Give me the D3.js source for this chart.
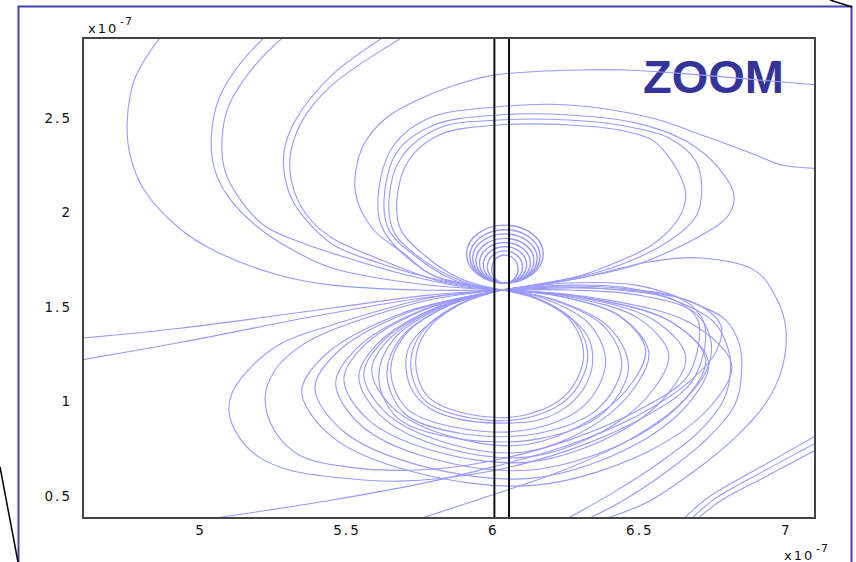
<!DOCTYPE html>
<html>
<head>
<meta charset="utf-8">
<script src="https://cdn.jsdelivr.net/npm/d3@7"></script>
<style>
body { margin: 0; background: #fff; }
svg { display: block; }
.tick text { font-family: "DejaVu Sans", Verdana, sans-serif; font-size: 13.5px; letter-spacing: 2px; fill: #111; }
.expo { font-family: "DejaVu Sans", Verdana, sans-serif; fill: #111; }
</style>
</head>
<body>
<svg id="chart"></svg>
<script>
// axes (units of 1e-7)
const xDomain = [4.6, 7.1];
const yDomain = [0.384, 2.923];
const xTicks = [5, 5.5, 6, 6.5, 7];
const yTicks = [0.5, 1, 1.5, 2, 2.5];
const boundaryX = [6.005, 6.055];
const label = "ZOOM";

// small circles above the saddle (centre x, tangent bottom y, radii)
const ringX = 6.041;
const ringBase = 1.627;
const ringRx = [0.045, 0.06, 0.074, 0.087, 0.099, 0.11, 0.12, 0.131];
const ringRy = [0.074, 0.085, 0.096, 0.107, 0.118, 0.13, 0.141, 0.153];

// upper lobe lines
const U1 = [[6.03,1.59],[5.884,1.653],[5.765,1.775],[5.686,1.907],[5.672,2.066],[5.713,2.278],[5.816,2.41],[6.02,2.463],[6.259,2.463],[6.43,2.437],[6.543,2.384],[6.611,2.272],[6.652,2.146],[6.659,2.093],[6.635,1.971],[6.543,1.828],[6.372,1.706],[6.294,1.664],[6.03,1.59]];
const U2 = [[6.03,1.59],[5.884,1.643],[5.747,1.765],[5.662,1.897],[5.645,2.066],[5.686,2.288],[5.816,2.447],[6.02,2.489],[6.259,2.489],[6.43,2.463],[6.601,2.394],[6.693,2.272],[6.713,2.13],[6.696,1.987],[6.601,1.849],[6.372,1.69],[6.03,1.59]];
const U3 = [[6.03,1.59],[5.867,1.643],[5.73,1.775],[5.645,1.907],[5.628,2.066],[5.672,2.32],[5.799,2.463],[6.02,2.516],[6.259,2.516],[6.488,2.474],[6.659,2.378],[6.771,2.235],[6.823,2.093],[6.805,1.987],[6.713,1.881],[6.488,1.722],[6.294,1.653],[6.03,1.59]];
const U4 = [[6.03,1.59],[5.816,1.653],[5.686,1.791],[5.618,1.934],[5.611,2.13],[5.662,2.357],[5.782,2.5],[6.01,2.558],[6.259,2.569],[6.543,2.5],[6.713,2.41],[6.898,2.304],[6.986,2.251],[7.11,2.233]];
const U5 = [[6.03,1.59],[5.792,1.669],[5.703,1.775],[5.587,1.918],[5.53,2.11],[5.553,2.341],[5.635,2.5],[5.758,2.606],[5.894,2.685],[6.01,2.728],[6.294,2.754],[6.454,2.754],[6.703,2.728],[6.908,2.701],[7.11,2.674]];

// upper-left lines coming down from the top edge
const A1 = [[4.87,2.94],[4.778,2.712],[4.751,2.484],[4.761,2.304],[4.809,2.119],[4.928,1.918],[5.051,1.796],[5.28,1.664],[5.451,1.616],[5.747,1.59],[6.03,1.59]];
const A2 = [[5.228,2.94],[5.133,2.78],[5.065,2.606],[5.038,2.394],[5.051,2.22],[5.099,2.077],[5.188,1.934],[5.304,1.812],[5.451,1.706],[5.747,1.622],[6.03,1.59]];
const A3 = [[5.293,2.94],[5.188,2.78],[5.099,2.569],[5.075,2.394],[5.085,2.22],[5.133,2.077],[5.22,1.93],[5.338,1.845],[5.451,1.785],[5.679,1.68],[5.884,1.611],[6.03,1.59]];
const A4 = [[5.64,2.94],[5.451,2.728],[5.324,2.484],[5.287,2.325],[5.29,2.183],[5.324,2.04],[5.451,1.833],[5.611,1.733],[5.816,1.643],[6.03,1.59]];
const A5 = [[5.705,2.94],[5.451,2.675],[5.348,2.484],[5.307,2.288],[5.321,2.114],[5.372,1.971],[5.451,1.865],[5.611,1.754],[5.816,1.638],[6.03,1.59]];

// lines from the left edge
const E1 = [[4.58,1.333],[4.939,1.389],[5.451,1.495],[5.782,1.563],[6.03,1.59]];
const E2 = [[4.58,1.216],[4.939,1.315],[5.451,1.468],[5.782,1.553],[6.03,1.59]];

// right side, going down to the bottom edge
const B1 = [[6.03,1.59],[6.294,1.653],[6.532,1.738],[6.713,1.759],[6.898,1.69],[6.966,1.553],[7.0,1.394],[6.986,1.167],[6.932,0.992],[6.829,0.812],[6.693,0.638],[6.522,0.463],[6.36,0.37]];
const R1 = [[6.03,1.59],[6.259,1.627],[6.488,1.616],[6.659,1.537],[6.795,1.431],[6.84,1.31],[6.85,1.183],[6.829,0.992],[6.737,0.812],[6.601,0.638],[6.43,0.463],[6.31,0.37]];
const R2 = [[6.03,1.59],[6.259,1.616],[6.464,1.601],[6.635,1.526],[6.754,1.421],[6.799,1.299],[6.812,1.177],[6.788,1.008],[6.703,0.839],[6.567,0.675],[6.396,0.505],[6.24,0.37]];

// lines rising from the bottom edge
const C1 = [[4.99,0.37],[5.235,0.426],[5.451,0.479],[5.747,0.563],[5.997,0.653],[6.259,0.77],[6.498,0.929],[6.669,1.103],[6.765,1.272],[6.778,1.405],[6.703,1.511],[6.532,1.579],[6.294,1.601],[6.03,1.59]];
const C2 = [[5.73,0.37],[5.976,0.495],[6.225,0.627],[6.464,0.796],[6.635,0.981],[6.73,1.167],[6.744,1.325],[6.686,1.474],[6.498,1.563],[6.259,1.59],[6.03,1.59]];

// wide lower-left loops
const O1 = [[6.03,1.59],[5.782,1.537],[5.451,1.378],[5.338,1.288],[5.256,1.167],[5.222,1.024],[5.253,0.849],[5.338,0.717],[5.509,0.653],[5.747,0.638],[5.976,0.68],[6.259,0.796],[6.498,0.955],[6.66,1.124],[6.7,1.283],[6.7,1.431],[6.62,1.537],[6.43,1.59],[6.225,1.606],[6.03,1.59]];
const O2 = [[6.03,1.59],[5.782,1.548],[5.451,1.405],[5.28,1.31],[5.188,1.204],[5.109,1.045],[5.099,0.939],[5.133,0.812],[5.201,0.706],[5.304,0.638],[5.451,0.601],[5.679,0.579],[5.976,0.627],[6.259,0.743],[6.498,0.902],[6.67,1.087],[6.72,1.262],[6.72,1.421],[6.65,1.537],[6.464,1.595],[6.225,1.611],[6.03,1.59]];

// lower lobe lines, inner to outer
const L0 = [[6.03,1.59],[5.918,1.537],[5.816,1.447],[5.747,1.362],[5.713,1.288],[5.703,1.183],[5.724,1.061],[5.782,0.966],[5.884,0.907],[6.02,0.886],[6.157,0.902],[6.259,0.981],[6.321,1.098],[6.341,1.23],[6.321,1.352],[6.242,1.468],[6.14,1.548],[6.03,1.59]];
const L0b = [[6.03,1.59],[5.874,1.508],[5.756,1.365],[5.719,1.194],[5.766,1.009],[5.921,0.914],[6.118,0.914],[6.265,1.03],[6.324,1.235],[6.28,1.419],[6.148,1.549],[6.03,1.59]];
const L0c = [[6.03,1.59],[5.883,1.51],[5.771,1.37],[5.736,1.203],[5.78,1.023],[5.927,0.93],[6.114,0.93],[6.254,1.043],[6.31,1.243],[6.268,1.423],[6.142,1.55],[6.03,1.59]];
const K1 = [[6.03,1.59],[5.84,1.501],[5.696,1.345],[5.651,1.16],[5.708,0.96],[5.897,0.856],[6.137,0.856],[6.314,0.982],[6.385,1.205],[6.332,1.405],[6.172,1.546],[6.03,1.59]];
const K2 = [[6.03,1.59],[5.834,1.498],[5.685,1.337],[5.638,1.145],[5.697,0.938],[5.893,0.831],[6.153,0.831],[6.358,0.961],[6.44,1.191],[6.379,1.398],[6.194,1.544],[6.03,1.59]];
const K3 = [[6.03,1.59],[5.82,1.495],[5.66,1.328],[5.61,1.129],[5.673,0.915],[5.883,0.804],[6.16,0.804],[6.376,0.939],[6.463,1.177],[6.398,1.391],[6.203,1.542],[6.03,1.59]];
const K4 = [[6.03,1.59],[5.808,1.492],[5.639,1.319],[5.586,1.164],[5.653,0.975],[5.83,0.827],[6.104,0.77],[6.349,0.918],[6.482,1.114],[6.521,1.278],[6.433,1.451],[6.226,1.557],[6.03,1.59]];
const K5 = [[6.03,1.59],[5.794,1.487],[5.616,1.307],[5.559,1.144],[5.63,0.947],[5.818,0.793],[6.105,0.733],[6.356,0.887],[6.492,1.093],[6.532,1.264],[6.442,1.444],[6.231,1.557],[6.03,1.59]];
const K6 = [[6.03,1.59],[5.786,1.484],[5.601,1.298],[5.542,1.13],[5.615,0.927],[5.81,0.768],[6.116,0.706],[6.401,0.865],[6.554,1.077],[6.6,1.254],[6.497,1.44],[6.258,1.555],[6.03,1.59]];
const K7 = [[6.03,1.59],[5.76,1.481],[5.556,1.29],[5.491,1.117],[5.572,0.907],[5.787,0.744],[6.124,0.68],[6.438,0.844],[6.608,1.062],[6.658,1.244],[6.545,1.435],[6.281,1.554],[6.03,1.59]];
const K8 = [[6.03,1.59],[5.746,1.476],[5.531,1.276],[5.463,1.095],[5.548,0.876],[5.775,0.705],[6.134,0.638],[6.482,0.809],[6.67,1.038],[6.726,1.228],[6.601,1.428],[6.308,1.552],[6.03,1.59]];
const K9 = [[6.03,1.59],[5.711,1.471],[5.469,1.262],[5.392,1.073],[5.488,0.844],[5.743,0.665],[6.136,0.595],[6.489,0.774],[6.68,1.013],[6.736,1.212],[6.609,1.421],[6.312,1.55],[6.03,1.59]];
const K10 = [[6.03,1.59],[5.688,1.466],[5.429,1.249],[5.347,1.053],[5.449,0.816],[5.723,0.63],[6.148,0.558],[6.54,0.744],[6.752,0.991],[6.815,1.198],[6.674,1.415],[6.344,1.549],[6.03,1.59]];

// far lower-right lines
const D1 = [[6.645,0.37],[6.737,0.495],[6.908,0.648],[7.11,0.824]];
const D2 = [[6.67,0.37],[6.761,0.489],[6.925,0.632],[7.11,0.787]];
const D3 = [[6.69,0.37],[6.782,0.479],[6.942,0.611],[7.11,0.75]];

const curves = [U1, U2, U3, U4, U5, A1, A2, A3, A4, A5, E1, E2, B1, R1, R2, C1, C2, O1, O2,
  L0, L0b, L0c, K1, K2, K3, K4, K5, K6, K7, K8, K9, K10, D1, D2, D3];

const W = 856, H = 562;
const plot = { left: 83, top: 38, right: 815, bottom: 518 };

const svg = d3.select('#chart').attr('width', W).attr('height', H);

const x = d3.scaleLinear().domain(xDomain).range([plot.left, plot.right]);
const y = d3.scaleLinear().domain(yDomain).range([plot.bottom, plot.top]);

// outer frame and the two zoom pointer lines
svg.append('rect')
  .attr('x', 18.5).attr('y', 6.5).attr('width', 833).attr('height', 600)
  .attr('fill', 'none').attr('stroke', '#4444b0').attr('stroke-width', 2);
svg.append('line').attr('x1', 830).attr('y1', 0).attr('x2', 852).attr('y2', 7)
  .attr('stroke', '#000').attr('stroke-width', 1.5);
svg.append('line').attr('x1', 0).attr('y1', 467).attr('x2', 18).attr('y2', 562)
  .attr('stroke', '#000').attr('stroke-width', 1.5);

svg.append('clipPath').attr('id', 'clip')
  .append('rect')
  .attr('x', plot.left).attr('y', plot.top)
  .attr('width', plot.right - plot.left).attr('height', plot.bottom - plot.top);

svg.append('text')
  .attr('x', 643).attr('y', 93)
  .attr('font-family', '"Liberation Sans", Arial, sans-serif')
  .attr('font-weight', 'bold').attr('font-size', 47)
  .attr('fill', '#333399')
  .text(label);

const g = svg.append('g').attr('clip-path', 'url(#clip)');

const line = d3.line()
  .x(d => x(d[0]))
  .y(d => y(d[1]))
  .curve(d3.curveCatmullRom.alpha(0.5));

g.selectAll('.fl')
  .data(curves)
  .enter()
  .append('path')
  .attr('class', 'fl')
  .attr('d', line)
  .attr('fill', 'none')
  .attr('stroke', '#9999ff')
  .attr('stroke-width', 1.1);

g.selectAll('.ring')
  .data(ringRx)
  .enter()
  .append('ellipse')
  .attr('class', 'ring')
  .attr('cx', x(ringX))
  .attr('cy', (d, i) => y(ringBase + ringRy[i]))
  .attr('rx', d => x(ringX + d) - x(ringX))
  .attr('ry', (d, i) => y(ringBase) - y(ringBase + ringRy[i]))
  .attr('fill', 'none')
  .attr('stroke', '#9999ff')
  .attr('stroke-width', 1.4);

g.selectAll('.bnd')
  .data(boundaryX)
  .enter()
  .append('line')
  .attr('class', 'bnd')
  .attr('x1', d => x(d)).attr('x2', d => x(d))
  .attr('y1', plot.top).attr('y2', plot.bottom)
  .attr('stroke', '#111').attr('stroke-width', 2);

// plot box
svg.append('rect')
  .attr('x', plot.left).attr('y', plot.top)
  .attr('width', plot.right - plot.left).attr('height', plot.bottom - plot.top)
  .attr('fill', 'none').attr('stroke', '#444').attr('stroke-width', 2);

const xAxis = d3.axisBottom(x).tickValues(xTicks).tickSize(0).tickPadding(7).tickFormat(d3.format(''));
const yAxis = d3.axisLeft(y).tickValues(yTicks).tickSize(0).tickPadding(11).tickFormat(d3.format(''));

svg.append('g').attr('transform', `translate(0,${plot.bottom})`).call(xAxis)
  .call(a => a.select('.domain').remove());
svg.append('g').attr('transform', `translate(${plot.left},0)`).call(yAxis)
  .call(a => a.select('.domain').remove());

// exponent labels
function expo(px, py) {
  svg.append('text').attr('class', 'expo').attr('x', px).attr('y', py)
    .attr('font-size', 13).attr('letter-spacing', 2).text('x10');
  svg.append('text').attr('class', 'expo').attr('x', px + 32).attr('y', py - 8)
    .attr('font-size', 11).attr('letter-spacing', 1).text('-7');
}
expo(88, 33);
expo(784, 560);
</script>
</body>
</html>
